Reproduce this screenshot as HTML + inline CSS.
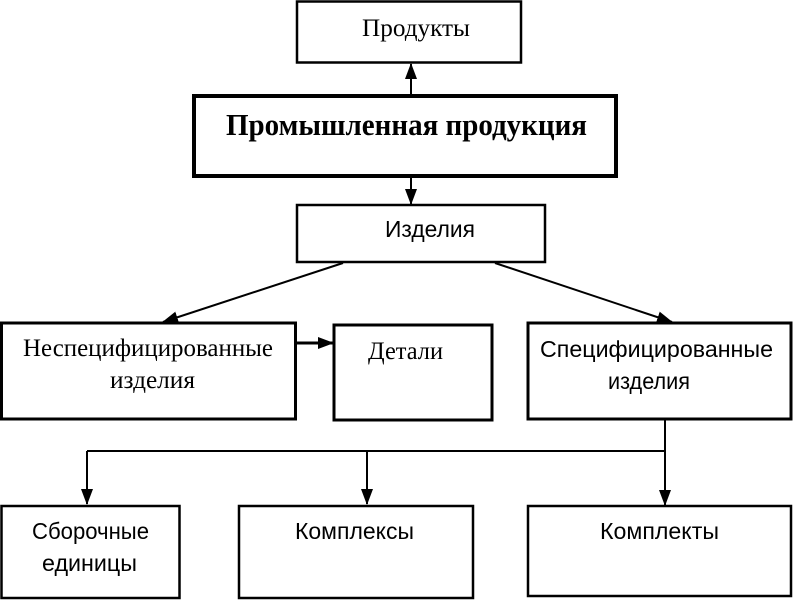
<!DOCTYPE html>
<html><head><meta charset="utf-8"><style>body{margin:0;background:#fff}svg{display:block}</style></head>
<body>
<svg width="793" height="600" viewBox="0 0 793 600" xmlns="http://www.w3.org/2000/svg">
<defs>
<marker id="b" markerWidth="16" markerHeight="12" refX="15" refY="6" orient="auto" markerUnits="userSpaceOnUse"><path d="M0,0 L16,6 L0,12 z" fill="#000"/></marker></defs>
<g fill="none" stroke="#000">
<rect x="297" y="1.5" width="224" height="61" stroke-width="2.5"/>
<rect x="194" y="96" width="422" height="80" stroke-width="4"/>
<rect x="297" y="205" width="248" height="57" stroke-width="2.5"/>
<rect x="1.5" y="323" width="294" height="96" stroke-width="3"/>
<rect x="334" y="325" width="158" height="95" stroke-width="3"/>
<rect x="528" y="323" width="263" height="96" stroke-width="3"/>
<rect x="1.5" y="506" width="178" height="92" stroke-width="2.5"/>
<rect x="239" y="506" width="234" height="92" stroke-width="2.5"/>
<rect x="528" y="506" width="263" height="90" stroke-width="2.5"/>
<g stroke-width="2">
<line x1="411" y1="95" x2="411" y2="64" marker-end="url(#b)"/>
<line x1="411" y1="177" x2="411" y2="204" marker-end="url(#b)"/>
<line x1="343" y1="263" x2="163" y2="322" marker-end="url(#b)"/>
<line x1="495" y1="263" x2="672" y2="322" marker-end="url(#b)"/>
<line x1="296" y1="343" x2="333" y2="343" stroke-width="3" marker-end="url(#b)"/>
<line x1="665" y1="420" x2="665" y2="505" marker-end="url(#b)"/>
<line x1="87" y1="451" x2="665" y2="451"/>
<line x1="87" y1="451" x2="87" y2="504" marker-end="url(#b)"/>
<line x1="367" y1="451" x2="367" y2="504" marker-end="url(#b)"/>
</g></g>
<g fill="#000">
<g font-family="Liberation Serif, serif" font-size="25">
<text x="362" y="36" textLength="108" lengthAdjust="spacingAndGlyphs">Продукты</text>
<text x="226" y="135" font-size="31" font-weight="bold" textLength="361" lengthAdjust="spacingAndGlyphs">Промышленная продукция</text>
<text x="23" y="356" textLength="250" lengthAdjust="spacingAndGlyphs">Неспецифицированные</text>
<text x="110" y="388" textLength="85" lengthAdjust="spacingAndGlyphs">изделия</text>
<text x="368" y="359" textLength="75" lengthAdjust="spacingAndGlyphs">Детали</text>
</g>
<g font-family="Liberation Sans, sans-serif" font-size="23">
<text x="385" y="237" textLength="90" lengthAdjust="spacingAndGlyphs">Изделия</text>
<text x="540" y="357" textLength="233" lengthAdjust="spacingAndGlyphs">Специфицированные</text>
<text x="608" y="389" textLength="82" lengthAdjust="spacingAndGlyphs">изделия</text>
<text x="32" y="539" textLength="117" lengthAdjust="spacingAndGlyphs">Сборочные</text>
<text x="42" y="571" textLength="95" lengthAdjust="spacingAndGlyphs">единицы</text>
<text x="295" y="539" textLength="119" lengthAdjust="spacingAndGlyphs">Комплексы</text>
<text x="600" y="539" textLength="119" lengthAdjust="spacingAndGlyphs">Комплекты</text>
</g></g>
</svg>
</body></html>
